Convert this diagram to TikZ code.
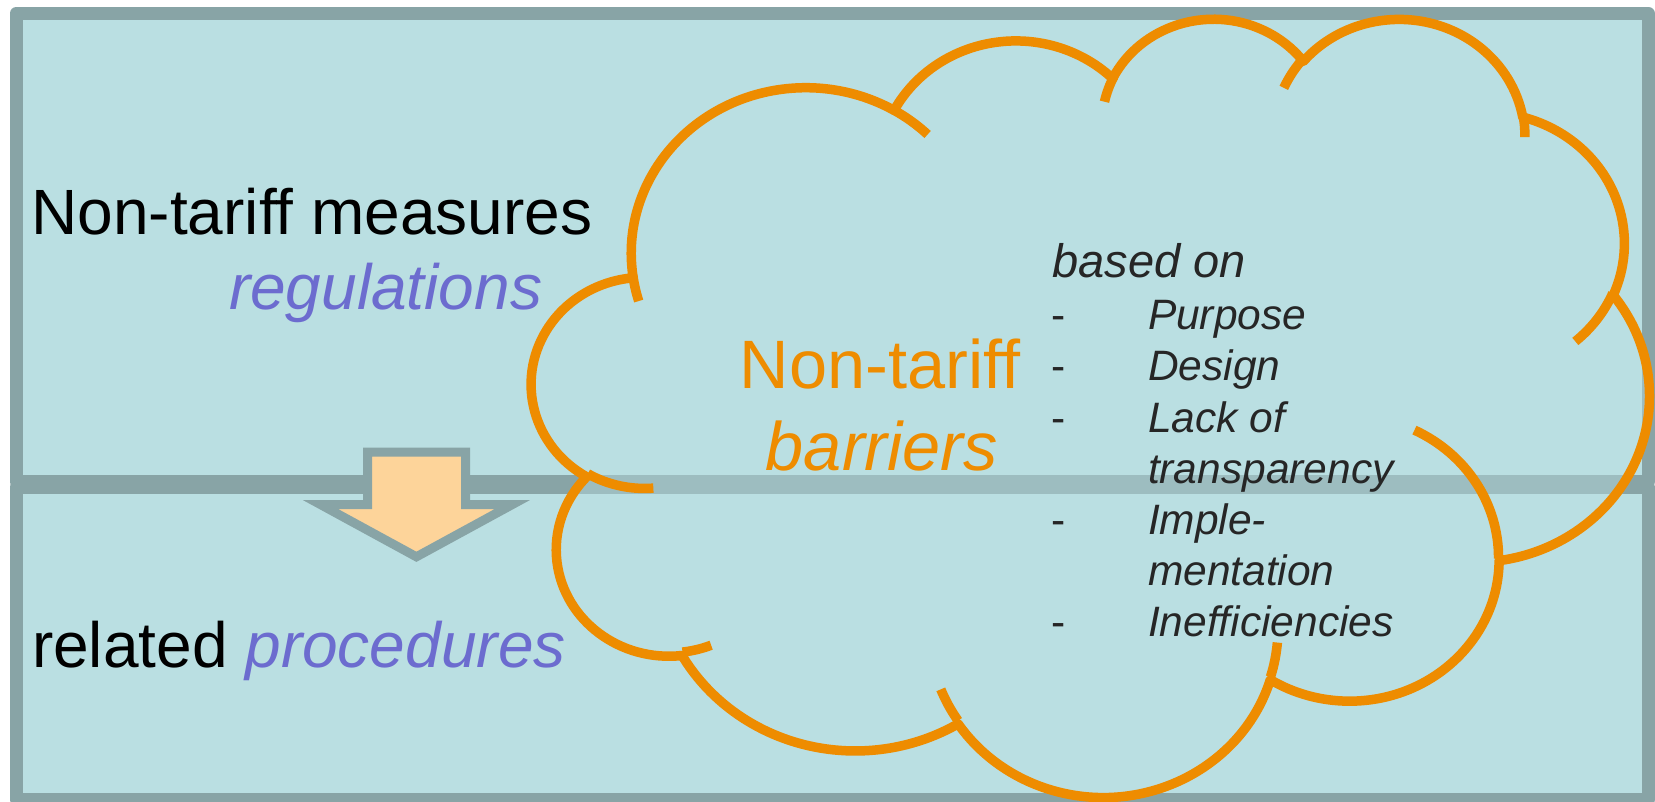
\documentclass[tikz,border=0pt]{standalone}
\usepackage{fontspec}
\setmainfont{Liberation Sans}[Ligatures={TeX,NoCommon}]
\definecolor{bgblue}{HTML}{BADFE2}
\definecolor{bordergray}{HTML}{88A4A6}
\definecolor{cloudorange}{HTML}{EE8C00}
\definecolor{arrowfill}{HTML}{FDD49A}
\definecolor{purpletext}{HTML}{6C6CCF}
\definecolor{listgray}{HTML}{262626}
% visual (OOXML) angles -> parametric angles for TikZ arcs
\newcommand\cldprep[5]{%
  \pgfmathsetmacro\cldtmpa{atan2((#2)*sin(#4),(#3)*cos(#4))}%
  \pgfmathsetmacro\cldtmpb{atan2((#2)*sin((#4)+(#5)),(#3)*cos((#4)+(#5)))}%
  \pgfmathsetmacro\cldtmpd{mod(\cldtmpb-\cldtmpa+720,360)}%
  \expandafter\global\expandafter\let\csname cldS#1\endcsname\cldtmpa
  \expandafter\global\expandafter\let\csname cldD#1\endcsname\cldtmpd
}
\tikzset{
  panel/.style={draw=bordergray, fill=bgblue, line width=13pt, line join=round},
  arrowshape/.style={draw=bordergray, fill=arrowfill, line width=9pt, line join=miter},
  cloudbody/.style={draw=cloudorange, fill=bgblue, fill opacity=0.44, line width=9.5pt, line join=round},
  cloudline/.style={draw=cloudorange, line width=9.5pt},
  lbl/.style={inner sep=0pt, outer sep=0pt, anchor=base west},
  bigtxt/.style={lbl, font=\fontsize{64}{77}\selectfont},
  cloudtxt/.style={inner sep=0pt, outer sep=0pt, anchor=base, text=cloudorange},
  listtxt/.style={lbl, text=listgray, font=\fontsize{42.5}{51}\selectfont\itshape},
  dashtxt/.style={lbl, text=listgray, font=\fontsize{42.5}{51}\selectfont},
}
\begin{document}
\begin{tikzpicture}[x=1pt,y=-1pt]
\useasboundingbox (0,0) rectangle (1655,801);
\fill[white] (0,0) rectangle (1655,801);
% panels
\draw[panel] (16,13.5) rectangle (1648.5,481.5);
\draw[panel] (16,487) rectangle (1648.5,799.5);
% arrow
\draw[arrowshape] (367.5,452) -- (465.5,452) -- (465.5,504.6) -- (512.2,504.6)
  -- (416.4,556.8) -- (320.6,504.6) -- (367.5,504.6) -- cycle;
% cloud geometry
\cldprep{a}{67.53}{91.90}{-190.48748}{123.78053}
\cldprep{b}{53.33}{72.67}{-144.10238}{89.94523}
\cldprep{c}{43.65}{59.45}{-145.80792}{99.72302}
\cldprep{d}{48.57}{65.95}{-130.98607}{117.24173}
\cldprep{e}{53.33}{72.73}{-78.70888}{109.02692}
\cldprep{f}{67.75}{92.20}{-46.26725}{130.269}
\cldprep{g}{57.85}{78.67}{0.62502}{114.03333}
\cldprep{h}{67.52}{92.15}{22.4516}{115.17255}
\cldprep{i}{77.20}{105.43}{66.24263}{75.71102}
\cldprep{j}{43.60}{59.18}{-274.94208}{146.73557}
\cldprep{k}{43.45}{59.45}{-246.8285}{152.51885}
\cldprep{ia}{43.45}{59.45}{86.742}{26.4295}
\cldprep{ib}{43.60}{59.18}{73.61047}{11.44747}
\cldprep{ic}{67.52}{92.15}{137.62415}{14.0811}
\cldprep{id}{67.52}{92.15}{6.45327}{15.99835}
\cldprep{ie}{57.85}{78.67}{-70.29235}{70.91737}
\cldprep{if}{53.33}{72.73}{30.31803}{27.7515}
\cldprep{ig}{48.57}{65.95}{-13.74433}{14.8589}
\cldprep{ih}{48.57}{65.95}{-149.18145}{18.19537}
\cldprep{ii}{43.65}{59.45}{-163.49427}{17.68635}
\cldprep{ij}{67.53}{91.90}{-66.70695}{12.31935}
\cldprep{ik}{67.53}{91.90}{157.65435}{11.85817}
\begin{scope}[xshift=532pt, yshift=-16.7pt, x=2.58565pt, y=-1.80093pt]
\path[cloudbody] (39,143.7)
  arc[x radius=67.53, y radius=91.90, start angle=\cldSa, delta angle=\cldDa]
  arc[x radius=53.33, y radius=72.67, start angle=\cldSb, delta angle=\cldDb]
  arc[x radius=43.65, y radius=59.45, start angle=\cldSc, delta angle=\cldDc]
  arc[x radius=48.57, y radius=65.95, start angle=\cldSd, delta angle=\cldDd]
  arc[x radius=53.33, y radius=72.73, start angle=\cldSe, delta angle=\cldDe]
  arc[x radius=67.75, y radius=92.20, start angle=\cldSf, delta angle=\cldDf]
  arc[x radius=57.85, y radius=78.67, start angle=\cldSg, delta angle=\cldDg]
  arc[x radius=67.52, y radius=92.15, start angle=\cldSh, delta angle=\cldDh]
  arc[x radius=77.20, y radius=105.43, start angle=\cldSi, delta angle=\cldDi]
  arc[x radius=43.60, y radius=59.18, start angle=\cldSj, delta angle=\cldDj]
  arc[x radius=43.45, y radius=59.45, start angle=\cldSk, delta angle=\cldDk]
  -- cycle;
\path[cloudline]
  (46.93,261.77) arc[x radius=43.45, y radius=59.45, start angle=\cldSia, delta angle=\cldDia]
  (69.28,348.99) arc[x radius=43.60, y radius=59.18, start angle=\cldSib, delta angle=\cldDib]
  (164.78,390.90) arc[x radius=67.52, y radius=92.15, start angle=\cldSic, delta angle=\cldDic]
  (288.27,347.51) arc[x radius=67.52, y radius=92.15, start angle=\cldSid, delta angle=\cldDid]
  (341.29,229.54) arc[x radius=57.85, y radius=78.67, start angle=\cldSie, delta angle=\cldDie]
  (417.98,153.54) arc[x radius=53.33, y radius=72.73, start angle=\cldSif, delta angle=\cldDif]
  (383.24,54.26) arc[x radius=48.57, y radius=65.95, start angle=\cldSig, delta angle=\cldDig]
  (290.78,39.52) arc[x radius=48.57, y radius=65.95, start angle=\cldSih, delta angle=\cldDih]
  (221.41,47.20) arc[x radius=43.65, y radius=59.45, start angle=\cldSii, delta angle=\cldDii]
  (140.00,51.92) arc[x radius=67.53, y radius=91.90, start angle=\cldSij, delta angle=\cldDij]
  (41.27,157.89) arc[x radius=67.53, y radius=91.90, start angle=\cldSik, delta angle=\cldDik];
\end{scope}
% left texts
\node[bigtxt] (ntm) at (31.5,234) {Non-tariff measures};
\node[bigtxt, text=purpletext, font=\fontsize{64}{77}\selectfont\itshape] (reg) at (229,309) {regulations};
\node[bigtxt] (rel) at (32,667) {related \textcolor{purpletext}{\itshape procedures}};
% cloud title
\node[cloudtxt, font=\fontsize{68.5}{82}\selectfont] (ntb1) at (880,388) {Non-tariff};
\node[cloudtxt, font=\fontsize{68.5}{82}\selectfont\itshape] (ntb2) at (882,470.5) {barriers};
% list
\node[lbl, text=listgray, font=\fontsize{47}{56}\selectfont\itshape] (based) at (1052.5,277) {based on};
\node[dashtxt] (d1) at (1051,329.6) {-};
\node[dashtxt] (d2) at (1051,380.8) {-};
\node[dashtxt] (d3) at (1051,432) {-};
\node[dashtxt] (d4) at (1051,534.4) {-};
\node[dashtxt] (d5) at (1051,636.8) {-};
\node[listtxt] (i1) at (1148,329.6) {Purpose};
\node[listtxt] (i2) at (1148,380.8) {Design};
\node[listtxt] (i3) at (1148,432) {Lack of};
\node[listtxt] (i3b) at (1148,483.2) {transparency};
\node[listtxt] (i4) at (1148,534.4) {Imple-};
\node[listtxt] (i4b) at (1148,585.6) {mentation};
\node[listtxt] (i5) at (1148,636.8) {Inefficiencies};
\end{tikzpicture}
\end{document}
